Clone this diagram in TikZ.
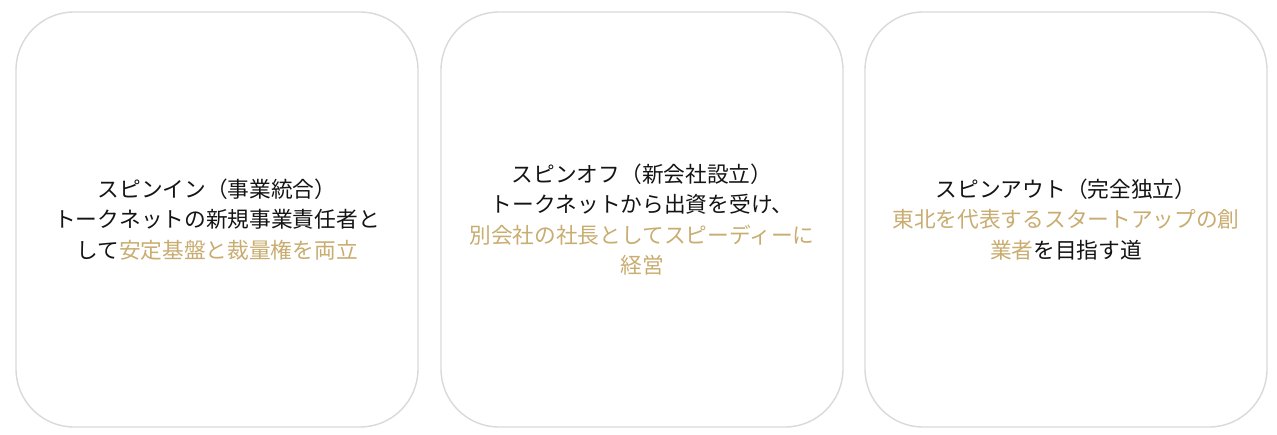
\documentclass[tikz,border=0pt]{standalone}
\usepackage{fontspec}
\setmainfont{Noto Sans CJK JP}
\usepackage{tikz}
\usetikzlibrary{positioning,calc}

\definecolor{cardline}{RGB}{217,217,217}
\definecolor{gold}{RGB}{200,172,112}
\definecolor{ink}{RGB}{20,20,20}

\tikzset{
  card/.style={shape=rectangle,draw=cardline,line width=1.4pt,rounded corners=58pt,
    inner sep=0pt,minimum width=402pt,minimum height=415pt},
  cardtext/.style={align=center,text=ink,font=\fontsize{21.7}{30.5}\selectfont}
}
\newcommand{\hl}[1]{\textcolor{gold}{#1}}

\begin{document}
\begin{tikzpicture}[x=1pt,y=-1pt]
    \useasboundingbox (0,0) rectangle (1277,434);
    % cards
    \foreach \i/\x in {1/217, 2/642, 3/1066} {
      \node[card] (c\i) at (\x,219.5) {};
    }

    % texts
    \node[cardtext] (t1) at (c1) {スピンイン（事業統合）\\
      トークネットの新規事業責任者と\\
      して\hl{安定基盤と裁量権を両立}};

    \node[cardtext] (t2) at (c2) {スピンオフ（新会社設立）\\
      トークネットから出資を受け、\\
      \hl{別会社の社長としてスピーディーに}\\
      \hl{経営}};

    \node[cardtext] (t3) at (c3) {スピンアウト（完全独立）\\
      \hl{東北を代表するスタートアップの創}\\
      \hl{業者}を目指す道};
\end{tikzpicture}
\end{document}
